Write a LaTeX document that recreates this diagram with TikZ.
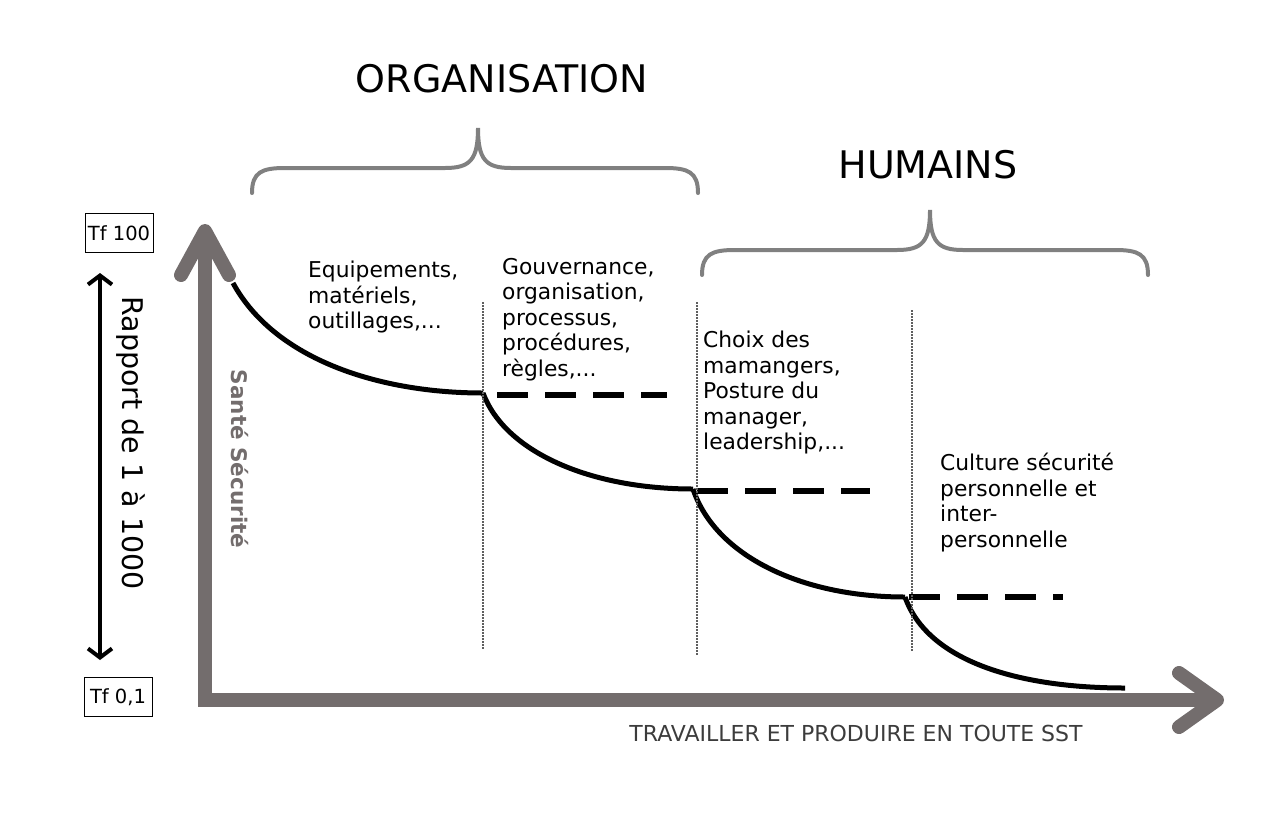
\documentclass[tikz,border=0pt]{standalone}
\usepackage{fontspec}
\setmainfont{DejaVu Sans}
\usepackage{xcolor}
\usetikzlibrary{calc}
\usetikzlibrary{arrows.meta}
\usetikzlibrary{positioning}

\definecolor{axisgray}{RGB}{115,109,109}
\definecolor{bracegray}{RGB}{128,128,128}
\definecolor{dotgray}{RGB}{95,95,95}
\definecolor{labelgray}{RGB}{60,60,60}

\begin{document}
\begin{tikzpicture}[x=1pt,y=-1pt]
	\tikzset{axis/.style={draw=axisgray, line width=14pt, line cap=round, line join=round}}
	\tikzset{brace/.style={draw=bracegray, line width=4pt, line cap=round}}
	\tikzset{stage/.style={draw=black, line width=5pt}}
	\tikzset{level/.style={draw=black, line width=6pt, dash pattern=on 31pt off 17pt}}
	\tikzset{limit/.style={draw=dotgray, line width=1.5pt, dash pattern=on 1.5pt off 1.5pt}}
	\tikzset{txt/.style={anchor=north west, align=left, inner sep=0pt, font=\fontsize{21.8}{25.5}\selectfont}}
	\tikzset{valbox/.style={draw=black, line width=1pt, minimum width=68pt, minimum height=39pt, inner sep=0pt, font=\fontsize{19.5}{24}\selectfont}}
	\useasboundingbox (0,0) rectangle (1282,815);
	% axes
	\coordinate (origin) at (205,700);
	\coordinate (ytip) at (205,231);
	\coordinate (xtip) at (1217,700);
	\draw[axis, line cap=butt, line join=miter] (ytip) -- (origin) -- (xtip);
	\draw[axis] ($(ytip)+(-24,44)$) -- (ytip) -- ($(ytip)+(24,44)$);
	\draw[axis] ($(xtip)+(-38,-27)$) -- (xtip) -- ($(xtip)+(-38,27)$);
	\node[rotate=-90, text=axisgray, font=\fontsize{21.5}{24}\selectfont\bfseries] (sante) at (240,459) {Santé Sécurité};
	\node[text=labelgray, font=\fontsize{22}{26}\selectfont] (sst) at (856,733) {TRAVAILLER ET PRODUIRE EN TOUTE SST};
	% scale on the left
	\node[valbox] (tfhigh) at (119,233) {Tf 100};
	\node[valbox] (tflow) at (118,697) {Tf 0,1};
	\coordinate (rtop) at (100,273);
	\coordinate (rbot) at (100,660);
	\draw[line width=4pt, {Straight Barb[length=9pt,width=24pt]}-{Straight Barb[length=9pt,width=24pt]}] (rtop) -- (rbot);
	\node[rotate=-90, font=\fontsize{28.5}{32}\selectfont] (rapport) at (131,443) {Rapport de 1 à 1000};
	% steps
	\coordinate (s0) at (233,283);
	\coordinate (s1) at (483,393);
	\coordinate (s2) at (693,489);
	\coordinate (s3) at (905,597);
	\coordinate (s4) at (1125,688);
	\draw[stage] (s0) .. controls (275,360) and (380,393) .. (s1);
	\draw[stage] (s1) .. controls (505,452) and (590,489) .. (s2);
	\draw[stage] (s2) .. controls (715,555) and (800,597) .. (s3);
	\draw[stage] (s3) .. controls (928,662) and (1020,688) .. (s4);
	\draw[level] (497,395) -- (667,395);
	\draw[level] (697,491) -- (870,491);
	\draw[level] (909,597) -- (1063,597);
	\draw[limit] (483,302) -- (483,650);
	\draw[limit] (697,302) -- (697,655);
	\draw[limit] (912,310) -- (912,652);
	% texts of the stages
	\node[txt] (equip) at (308,261) {Equipements,\\matériels,\\outillages,...};
	\node[txt] (gouv) at (502,258) {Gouvernance,\\organisation,\\processus,\\procédures,\\règles,...};
	\node[txt] (choix) at (703,331) {Choix des\\mamangers,\\Posture du\\manager,\\leadership,...};
	\node[txt] (culture) at (940,453) {Culture sécurité\\personnelle et\\inter-\\personnelle};
	% braces
	\draw[brace] (252,193) .. controls (252,172) and (262,168) .. (285,168) -- (445,168) .. controls (470,168) and (478,160) .. (478,128)
		.. controls (478,160) and (486,168) .. (511,168) -- (665,168) .. controls (688,168) and (698,172) .. (698,193);
	\draw[brace] (702,275) .. controls (702,254) and (712,250) .. (735,250) -- (897,250) .. controls (922,250) and (930,242) .. (930,210)
		.. controls (930,242) and (938,250) .. (963,250) -- (1115,250) .. controls (1138,250) and (1148,254) .. (1148,275);
	\node[font=\fontsize{38}{44}\selectfont] (orga) at (502,79) {ORGANISATION};
	\node[font=\fontsize{38}{44}\selectfont] (humains) at (928,165) {HUMAINS};
\end{tikzpicture}
\end{document}
